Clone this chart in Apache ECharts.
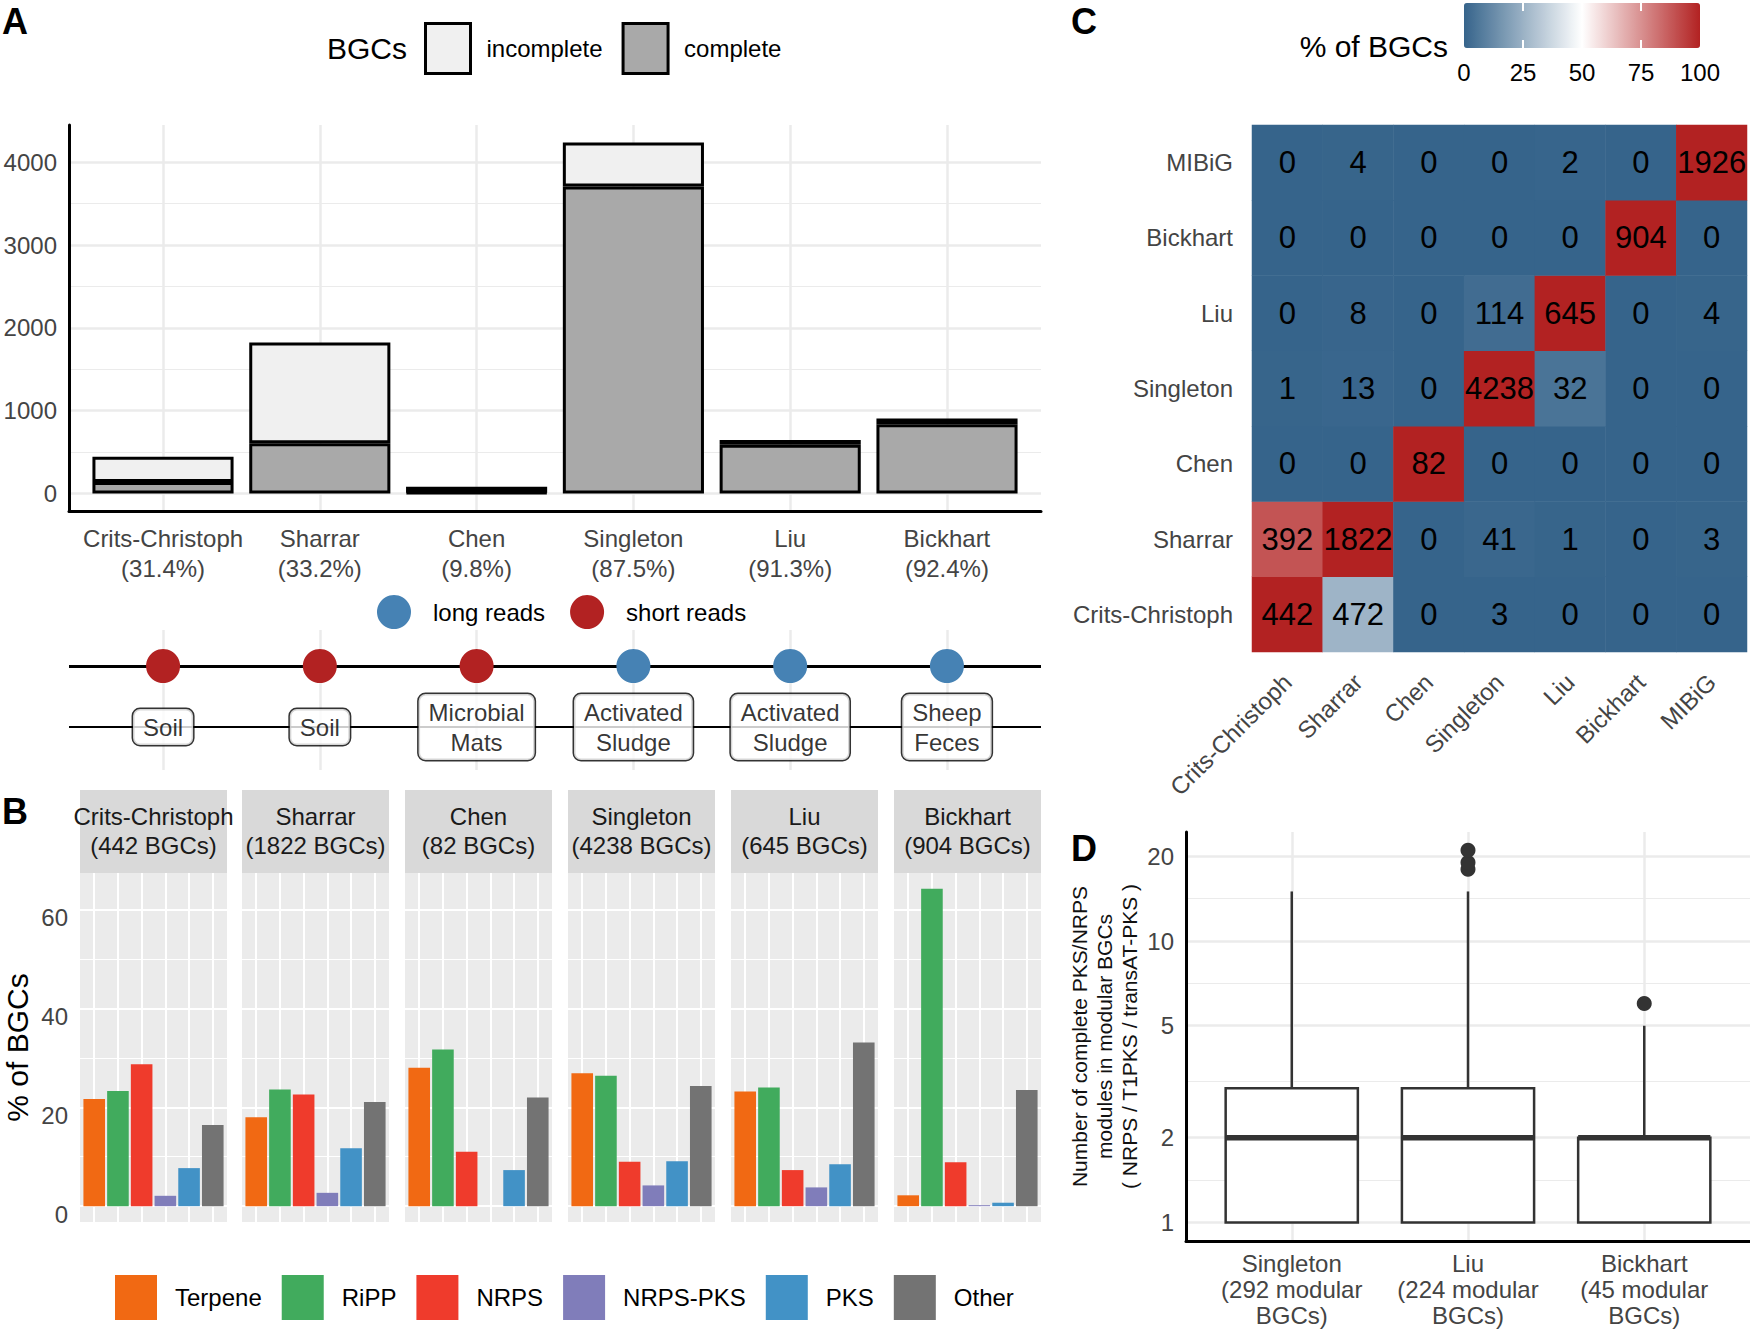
<!DOCTYPE html>
<html><head><meta charset="utf-8">
<script src="https://cdn.jsdelivr.net/npm/echarts@6/dist/echarts.min.js"></script>
<style>html,body{margin:0;padding:0;background:#fff}#c{width:1750px;height:1332px}</style>
</head><body><div id="c"></div>
<script>
// ---------- DATA ----------
const datasets = ['Crits-Christoph','Sharrar','Chen','Singleton','Liu','Bickhart'];
const completenessLabels = ['31.4%','33.2%','9.8%','87.5%','91.3%','92.4%'];
const completeBGCs = [139, 605, 8, 3708, 589, 835];
const incompleteBGCs = [303, 1217, 74, 530, 56, 69];
const readTypes = ['short','short','short','long','long','long'];
const habitats = ['Soil','Soil','Microbial\nMats','Activated\nSludge','Activated\nSludge','Sheep\nFeces'];
const bgcTotals = [442, 1822, 82, 4238, 645, 904];
const bgcTypes = ['Terpene','RiPP','NRPS','NRPS-PKS','PKS','Other'];
const pctCritsChristoph = [21.7, 23.3, 28.7, 2.1, 7.7, 16.4];
const pctSharrar = [18.0, 23.6, 22.6, 2.7, 11.7, 21.1];
const pctChen = [28.0, 31.7, 11.0, 0, 7.3, 22.0];
const pctSingleton = [26.9, 26.4, 9.0, 4.2, 9.1, 24.3];
const pctLiu = [23.2, 24.0, 7.3, 3.8, 8.5, 33.1];
const pctBickhart = [2.2, 64.2, 8.9, 0.2, 0.7, 23.5];
const yTicksA = [0, 1000, 2000, 3000, 4000];
const yMinorA = [500, 1500, 2500, 3500];
const yTicksB = [0, 20, 40, 60];
const yMinorB = [10, 30, 50];
const heatCats = ['Crits-Christoph','Sharrar','Chen','Singleton','Liu','Bickhart','MIBiG'];
// rows from bottom (Crits-Christoph) to top (MIBiG); columns in heatCats order
const heatCounts = [
  [442, 472, 0, 3, 0, 0, 0],
  [392, 1822, 0, 41, 1, 0, 3],
  [0, 0, 82, 0, 0, 0, 0],
  [1, 13, 0, 4238, 32, 0, 0],
  [0, 8, 0, 114, 645, 0, 4],
  [0, 0, 0, 0, 0, 904, 0],
  [0, 4, 0, 0, 2, 0, 1926]
];
const heatPct = [
  [100, 25.9, 0, 0.1, 0, 0, 0],
  [88.7, 100, 0, 1.0, 0.2, 0, 0.2],
  [0, 0, 100, 0, 0, 0, 0],
  [0.2, 0.7, 0, 100, 5.0, 0, 0],
  [0, 0.4, 0, 2.7, 100, 0, 0.2],
  [0, 0, 0, 0, 0, 100, 0],
  [0, 0.2, 0, 0, 0.3, 0, 100]
];
const colorbarTicks = [0, 25, 50, 75, 100];
const boxCats = ['Singleton','Liu','Bickhart'];
const modularCounts = [292, 224, 45];
const boxStats = [[1, 1, 2, 3, 15], [1, 1, 2, 3, 15], [1, 1, 2, 2, 5]]; // min, Q1, median, Q3, max
const outliers = [[2, 18], [2, 19], [2, 21], [3, 6]];
const yTicksD = [1, 2, 5, 10, 20];
const yMinorD = [1.414, 3.162, 7.071, 14.14];

// ---------- STYLE ----------
const FONT = '"Liberation Sans", Arial, sans-serif';
const AX = '#444';
const GRID = '#EBEBEB';
const typeColors = ['#F16913', '#41AB5D', '#EF3B2C', '#807DBA', '#4292C6', '#737373'];
const pctB = [pctCritsChristoph, pctSharrar, pctChen, pctSingleton, pctLiu, pctBickhart];
const facetLefts = [80, 242, 405, 568, 731, 894];
const FACET_W = 147;
const DOT_Y = 0.743, BOX_Y = 0.307;

const grid = [], xAxis = [], yAxis = [], series = [];
function addGrid(g) { g.outerBoundsMode = 'none'; g.containLabel = false; grid.push(g); return grid.length - 1; }
function addX(a) { xAxis.push(a); return xAxis.length - 1; }
function addY(a) { if (!a.position) a.position = 'left'; yAxis.push(a); return yAxis.length - 1; }
const noLine = { show: false };
const plain = v => String(v);

// ---------- PANEL A : frame (axes, gridlines) ----------
const A_MIN = -212, A_MAX = 4450;
const gA = addGrid({ left: 69, top: 125, width: 972, height: 386 });
addX({ type: 'value', gridIndex: gA, min: 0.4, max: 6.6,
  axisLine: { show: true, onZero: false, lineStyle: { color: '#000', width: 3 } },
  axisTick: { show: false, customValues: [1, 2, 3, 4, 5, 6] },
  axisLabel: { customValues: [1, 2, 3, 4, 5, 6], fontSize: 24, lineHeight: 30, color: AX, margin: 12, fontFamily: FONT,
    formatter: v => datasets[Math.round(v) - 1] + '\n(' + completenessLabels[Math.round(v) - 1] + ')' },
  splitLine: { show: true, lineStyle: { color: GRID, width: 2.5 } } });
addY({ type: 'value', gridIndex: gA, min: A_MIN, max: A_MAX,
  axisLine: { show: true, onZero: false, lineStyle: { color: '#000', width: 3 } },
  axisTick: { show: false, customValues: yTicksA },
  axisLabel: { customValues: yTicksA, fontSize: 24, color: AX, margin: 12, fontFamily: FONT, formatter: plain },
  splitLine: { show: true, lineStyle: { color: GRID, width: 2.5 } } });
addY({ type: 'value', gridIndex: gA, min: A_MIN, max: A_MAX,
  axisLine: noLine, axisLabel: { show: false },
  axisTick: { show: false, customValues: yMinorA },
  splitLine: { show: true, lineStyle: { color: GRID, width: 1.2 } } });
// ---------- PANEL A : stacked bars (category band = ggplot discrete spacing) ----------
const gAb = addGrid({ left: 84.6, top: 125, width: 940.8, height: 386 });
const xAb = addX({ type: 'category', gridIndex: gAb, data: datasets, show: false });
const yAb = addY({ type: 'value', gridIndex: gAb, min: A_MIN, max: A_MAX, show: false });
series.push({ type: 'bar', name: 'complete', xAxisIndex: xAb, yAxisIndex: yAb, stack: 'A', barWidth: '90%',
  itemStyle: { color: '#A9A9A9', borderColor: '#000', borderWidth: 3 }, data: completeBGCs });
series.push({ type: 'bar', name: 'incomplete', xAxisIndex: xAb, yAxisIndex: yAb, stack: 'A', barWidth: '90%',
  itemStyle: { color: '#F0F0F0', borderColor: '#000', borderWidth: 3 }, data: incompleteBGCs });

// ---------- PANEL A : timeline ----------
const gT = addGrid({ left: 69, top: 630, width: 972, height: 140 });
const xT = addX({ type: 'value', gridIndex: gT, min: 0.4, max: 6.6,
  axisLine: noLine, axisLabel: { show: false }, axisTick: { show: false, customValues: [1, 2, 3, 4, 5, 6] },
  splitLine: { show: true, lineStyle: { color: GRID, width: 2.5 } } });
const yT = addY({ type: 'value', gridIndex: gT, min: 0, max: 1,
  axisLine: noLine, axisLabel: { show: false }, axisTick: { show: false }, splitLine: { show: false } });
const readSeries = [['long reads', 'long', '#4682B4', 3, DOT_Y], ['short reads', 'short', '#B22222', 2, BOX_Y]];
readSeries.forEach(([nm, key, col, lw, ly]) => {
  series.push({ type: 'scatter', name: nm, xAxisIndex: xT, yAxisIndex: yT, symbolSize: 34, z: 3,
    itemStyle: { color: col, opacity: 1 },
    data: readTypes.map((t, i) => t === key ? [i + 1, DOT_Y] : null).filter(d => d),
    markLine: { silent: true, symbol: 'none', z: 1, animation: false, label: { show: false },
      lineStyle: { color: '#000', width: lw, type: 'solid' }, data: [{ yAxis: ly }] } });
});
series.push({ type: 'scatter', name: 'habitat', xAxisIndex: xT, yAxisIndex: yT, symbolSize: 1, z: 4,
  itemStyle: { color: 'rgba(0,0,0,0)' },
  label: { show: true, position: 'inside', formatter: '{b}', fontSize: 24, lineHeight: 30, color: '#000', fontFamily: FONT,
    backgroundColor: '#fff', borderColor: '#000', borderWidth: 1.5, borderRadius: 7, padding: [3, 10, 3, 10] },
  data: habitats.map((h, i) => ({ name: h, value: [i + 1, BOX_Y] })) });

// ---------- PANEL B : facets ----------
facetLefts.forEach((lx, f) => {
  const g = addGrid({ left: lx, top: 873, width: FACET_W, height: 349, show: true, backgroundColor: '#EBEBEB', borderWidth: 0 });
  const xi = addX({ type: 'value', gridIndex: g, min: 0.4, max: 6.6,
    axisLine: noLine, axisLabel: { show: false }, axisTick: { show: false, customValues: [1, 2, 3, 4, 5, 6] },
    splitLine: { show: true, lineStyle: { color: '#fff', width: 2 } } });
  const yi = addY({ type: 'value', gridIndex: g, min: -3.2, max: 67.4,
    axisLine: noLine, axisTick: { show: false, customValues: yTicksB },
    axisLabel: { show: f === 0, customValues: yTicksB, fontSize: 24, color: AX, margin: 12, verticalAlign: 'top', lineHeight: 16, fontFamily: FONT, formatter: plain },
    name: f === 0 ? '% of BGCs' : '', nameLocation: 'middle', nameRotate: 90, nameGap: 48,
    nameTextStyle: { fontSize: 30, color: '#000', fontFamily: FONT },
    splitLine: { show: true, lineStyle: { color: '#fff', width: 2 } } });
  addY({ type: 'value', gridIndex: g, min: -3.2, max: 67.4,
    axisLine: noLine, axisLabel: { show: false }, axisTick: { show: false, customValues: yMinorB },
    splitLine: { show: true, lineStyle: { color: '#fff', width: 1.2 } } });
  series.push({ type: 'bar', name: 'facet' + f, xAxisIndex: xi, yAxisIndex: yi, barWidth: 21.6,
    data: pctB[f].map((v, k) => ({ value: [k + 1, v], itemStyle: { color: typeColors[k] } })) });
});

// ---------- PANEL C : heatmap ----------
const gC = addGrid({ left: 1252, top: 125, width: 495, height: 527 });
const xC = addX({ type: 'category', gridIndex: gC, data: heatCats,
  axisLine: noLine, axisTick: { show: false }, splitLine: { show: false },
  axisLabel: { interval: 0, rotate: 45, fontSize: 24, color: AX, margin: 26, fontFamily: FONT } });
const yC = addY({ type: 'category', gridIndex: gC, data: heatCats,
  axisLine: noLine, axisTick: { show: false }, splitLine: { show: false },
  axisLabel: { interval: 0, fontSize: 24, color: AX, margin: 19, fontFamily: FONT } });
const heatData = [];
heatCounts.forEach((row, r) => row.forEach((cnt, c) => heatData.push([c, r, heatPct[r][c], cnt])));
const heatIdx = series.length;
series.push({ type: 'heatmap', name: 'overlap', xAxisIndex: xC, yAxisIndex: yC, data: heatData,
  label: { show: true, formatter: p => String(p.value[3]), fontSize: 31, color: '#000', fontFamily: FONT },
  itemStyle: { borderWidth: 0 } });

// colourbar tick labels
const gK = addGrid({ left: 1464, top: 3, width: 236, height: 45 });
const xK = addX({ type: 'value', gridIndex: gK, min: 0, max: 100, z: 10,
  axisLine: noLine, splitLine: { show: false },
  axisTick: { show: true, inside: true, length: 8, customValues: [25, 50, 75], lineStyle: { color: '#fff', width: 2 } },
  axisLabel: { customValues: colorbarTicks, fontSize: 24, color: '#000', margin: 12, fontFamily: FONT } });
addX({ type: 'value', gridIndex: gK, min: 0, max: 100, z: 10, position: 'top',
  axisLine: noLine, splitLine: { show: false }, axisLabel: { show: false },
  axisTick: { show: true, inside: true, length: 8, customValues: [25, 50, 75], lineStyle: { color: '#fff', width: 2 } } });
const yK = addY({ type: 'value', gridIndex: gK, show: false, min: 0, max: 1 });
// legend entries for panel B (empty series, legend only)
bgcTypes.forEach((t, k) => series.push({ type: 'bar', name: t, xAxisIndex: xK, yAxisIndex: yK, data: [],
  itemStyle: { color: typeColors[k] } }));

// ---------- PANEL D : boxplots on log scale ----------
const gD = addGrid({ left: 1186, top: 832, width: 564, height: 409 });
const xD = addX({ type: 'value', gridIndex: gD, min: 0.4, max: 3.6,
  axisLine: { show: true, onZero: false, lineStyle: { color: '#000', width: 3 } },
  axisTick: { show: false, customValues: [1, 2, 3] },
  axisLabel: { customValues: [1, 2, 3], fontSize: 24, lineHeight: 26, color: AX, margin: 9, fontFamily: FONT,
    formatter: v => { const i = Math.round(v) - 1; return boxCats[i] + '\n(' + modularCounts[i] + ' modular\nBGCs)'; } },
  splitLine: { show: true, lineStyle: { color: GRID, width: 2.5 } } });
const D_MIN = 0.859, D_MAX = 24.4;
const yD = addY({ type: 'log', logBase: 10, gridIndex: gD, min: D_MIN, max: D_MAX,
  axisLine: { show: true, onZero: false, lineStyle: { color: '#000', width: 3 } },
  axisTick: { show: false }, axisLabel: { show: false }, splitLine: { show: false }, minorSplitLine: { show: false },
  name: 'Number of complete PKS/NRPS\nmodules in modular BGCs\n( NRPS / T1PKS / transAT-PKS )',
  nameLocation: 'middle', nameRotate: 90, nameGap: 44,
  nameTextStyle: { fontSize: 21, lineHeight: 25, color: '#111', fontFamily: FONT } });
addY({ type: 'value', gridIndex: gD, min: Math.log10(D_MIN), max: Math.log10(D_MAX),
  axisLine: noLine, axisTick: { show: false, customValues: yTicksD.map(Math.log10) },
  axisLabel: { customValues: yTicksD.map(Math.log10), fontSize: 24, color: AX, margin: 12, fontFamily: FONT,
    formatter: v => String(Math.round(Math.pow(10, v))) },
  splitLine: { show: true, lineStyle: { color: GRID, width: 2.5 } } });
addY({ type: 'value', gridIndex: gD, min: Math.log10(D_MIN), max: Math.log10(D_MAX),
  axisLine: noLine, axisLabel: { show: false }, axisTick: { show: false, customValues: yMinorD.map(Math.log10) },
  splitLine: { show: true, lineStyle: { color: GRID, width: 1.2 } } });
series.push({ type: 'custom', name: 'boxes', xAxisIndex: xD, yAxisIndex: yD, z: 5,
  encode: { x: 0, y: [1, 2, 3, 4, 5] },
  data: boxStats.map((s, i) => [i + 1].concat(s)),
  renderItem: (params, api) => {
    const x = api.value(0);
    const lo = api.coord([x, api.value(1)]), q1 = api.coord([x, api.value(2)]),
      med = api.coord([x, api.value(3)]), q3 = api.coord([x, api.value(4)]), hi = api.coord([x, api.value(5)]);
    const w = api.size([0.75, 0], [x, 1])[0];
    const st = { stroke: '#333', lineWidth: 2.5, fill: null };
    return { type: 'group', children: [
      { type: 'line', shape: { x1: hi[0], y1: hi[1], x2: q3[0], y2: q3[1] }, style: st },
      { type: 'line', shape: { x1: lo[0], y1: lo[1], x2: q1[0], y2: q1[1] }, style: st },
      { type: 'rect', shape: { x: q1[0] - w / 2, y: q3[1], width: w, height: q1[1] - q3[1] },
        style: { fill: '#fff', stroke: '#333', lineWidth: 2.5 } },
      { type: 'line', shape: { x1: med[0] - w / 2, y1: med[1], x2: med[0] + w / 2, y2: med[1] },
        style: { stroke: '#333', lineWidth: 5.5 } }
    ] };
  } });
series.push({ type: 'scatter', name: 'outliers', xAxisIndex: xD, yAxisIndex: yD, symbolSize: 15, z: 6,
  itemStyle: { color: '#333', opacity: 1 }, data: outliers });

// ---------- graphics: panel letters, titles, facet strips ----------
const letter = (t, l, tp) => ({ type: 'text', left: l, top: tp, style: { text: t, fontSize: 36, lineHeight: 36, fontWeight: 'bold', fontFamily: FONT, fill: '#000' } });
const graphic = [letter('A', 2, 3), letter('B', 2, 793), letter('C', 1071, 3), letter('D', 1071, 830),
  { type: 'text', x: 327, y: 48, style: { text: 'BGCs', fontSize: 30, fontFamily: FONT, fill: '#000', align: 'left', verticalAlign: 'middle', textAlign: 'left', textVerticalAlign: 'middle' } },
  { type: 'text', x: 1448, y: 46, style: { text: '% of BGCs', fontSize: 30, fontFamily: FONT, fill: '#000', align: 'right', verticalAlign: 'middle', textAlign: 'right', textVerticalAlign: 'middle' } }];
facetLefts.forEach((lx, f) => {
  graphic.push({ type: 'rect', z: 0, shape: { x: lx, y: 790, width: FACET_W, height: 83 }, style: { fill: '#D9D9D9' } });
  graphic.push({ type: 'text', z: 1, x: lx + FACET_W / 2, y: 831, style: { text: datasets[f] + '\n(' + bgcTotals[f] + ' BGCs)',
    fontSize: 24, lineHeight: 29, fontFamily: FONT, fill: '#1A1A1A', align: 'center', verticalAlign: 'middle', textAlign: 'center', textVerticalAlign: 'middle' } });
});

const option = {
  animation: false,
  backgroundColor: '#fff',
  textStyle: { fontFamily: FONT },
  grid, xAxis, yAxis, series, graphic,
  legend: [
    { data: ['incomplete', 'complete'], left: 424, top: 22, padding: 0, itemWidth: 45, itemHeight: 50, itemGap: 19, icon: 'rect',
      selectedMode: false, itemStyle: { borderColor: '#000', borderWidth: 3 },
      textStyle: { fontSize: 24, color: '#000', padding: [0, 0, 0, 11], fontFamily: FONT } },
    { data: ['long reads', 'short reads'], left: 377, top: 595, padding: 0, itemWidth: 34, itemHeight: 34, itemGap: 25, icon: 'circle',
      selectedMode: false, textStyle: { fontSize: 24, color: '#000', padding: [0, 0, 0, 17], fontFamily: FONT } },
    { data: bgcTypes, left: 115, top: 1275, padding: 0, itemWidth: 42, itemHeight: 45, itemGap: 20, icon: 'rect',
      selectedMode: false, textStyle: { fontSize: 24, color: '#000', padding: [0, 0, 0, 13], fontFamily: FONT } }
  ],
  visualMap: [{ type: 'continuous', seriesIndex: [heatIdx], dimension: 2, min: 0, max: 100, orient: 'horizontal',
    left: 1464, top: 3, padding: 0, itemWidth: 45, itemHeight: 236, calculable: false, text: ['', ''], showLabel: false,
    inRange: { color: ['#36648B', '#FFFFFF', '#B22222'] } }]
};
const chart = echarts.init(document.getElementById('c'), null, { renderer: 'svg' });
chart.setOption(option);
</script></body></html>
